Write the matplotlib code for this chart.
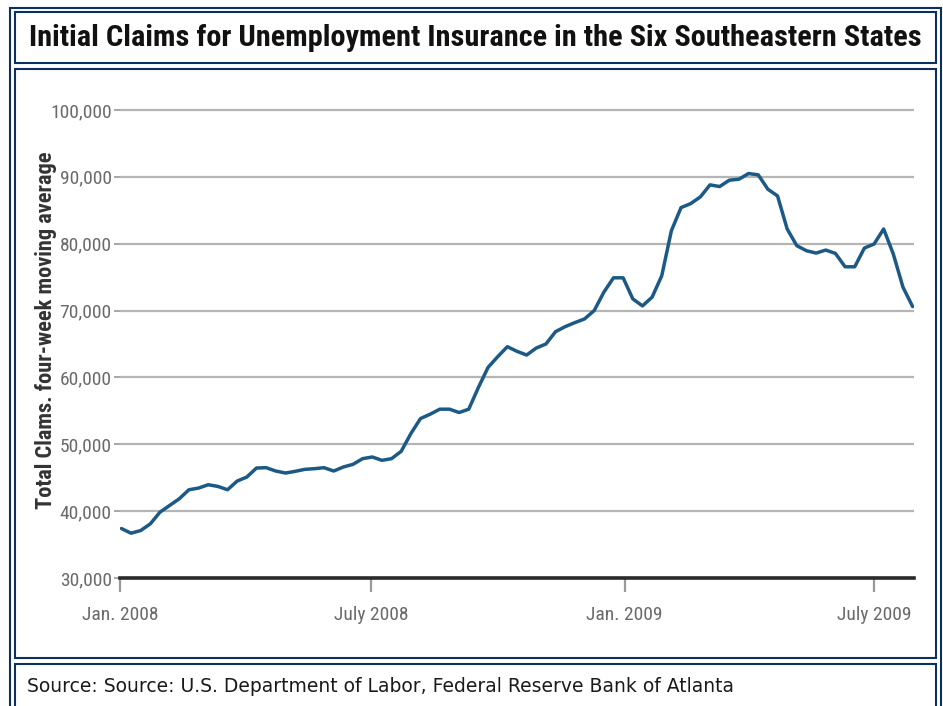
import matplotlib
matplotlib.use("Agg")
import matplotlib.pyplot as plt
from matplotlib.patches import Rectangle
from matplotlib.ticker import FuncFormatter
from matplotlib import font_manager
import pandas as pd

# ---------------- data ----------------
claims = [
    37400, 36700, 37100, 38100, 39850, 40850, 41850, 43200, 43450, 43950,
    43700, 43200, 44500, 45100, 46450, 46500, 46000, 45700, 45950, 46250,
    46350, 46500, 46000, 46600, 47000, 47850, 48100, 47600, 47850, 48950,
    51600, 53850, 54500, 55250, 55250, 54750, 55250, 58500, 61500, 63100,
    64600, 63900, 63350, 64400, 65000, 66850, 67600, 68200, 68750, 70000,
    72750, 74900, 74900, 71750, 70700, 72000, 75200, 81950, 85400, 86000,
    87000, 88800, 88550, 89500, 89650, 90500, 90300, 88150, 87150, 82200,
    79700, 78950, 78600, 79050, 78550, 76550, 76550, 79350, 79950, 82200,
    78450, 73500, 70600,
]
week_dates = pd.date_range("2008-01-02", periods=len(claims), freq="7D")

y_ticks = [30000, 40000, 50000, 60000, 70000, 80000, 90000, 100000]
x_tick_dates = pd.to_datetime(["2008-01-01", "2008-07-01", "2009-01-01", "2009-07-01"])
x_tick_labels = ["Jan. 2008", "July 2008", "Jan. 2009", "July 2009"]

title_text = "Initial Claims for Unemployment Insurance in the Six Southeastern States"
y_label_text = "Total Clams. four-week moving average"
source_text = "Source: Source: U.S. Department of Labor, Federal Reserve Bank of Atlanta"

# ---------------- fonts ----------------
available = {f.name for f in font_manager.fontManager.ttflist}

def pick(*names):
    for n in names:
        if n in available:
            return n
    return "DejaVu Sans"

narrow = pick("Liberation Sans Narrow", "Roboto Condensed", "Liberation Sans")
title_font = pick("Liberation Sans Narrow", "Roboto Condensed", "Liberation Sans")
verdana = pick("DejaVu Sans")

# ---------------- figure ----------------
W, H = 943, 706
fig = plt.figure(figsize=(W / 100, H / 100), dpi=100)
fig.patch.set_facecolor("white")

NAVY = "#0b2f5e"

def fx(px):
    return px / W

def fy(py):
    return 1 - py / H

def box(x0, y0, x1, y1, lw=1.5):
    r = Rectangle((fx(x0), fy(y1)), fx(x1) - fx(x0), fy(y0) - fy(y1),
                  transform=fig.transFigure, fill=False, edgecolor=NAVY,
                  linewidth=lw, zorder=10)
    fig.add_artist(r)

# outer frame (bottom edge lies outside the picture)
box(9.5, 7.5, 940.5, 730)
# title box, chart box, source box
box(14.5, 12.5, 935.5, 62.5)
box(14.5, 69.0, 935.5, 657.5)
box(14.5, 663.5, 935.5, 730)

# ---------------- axes ----------------
ax_left, ax_right = 120, 914
y_top_val = 100500
ax_bottom_px = 578
px_per_unit = (578 - 110) / 70000
ax_top_px = 110 - (y_top_val - 100000) * px_per_unit
ax = fig.add_axes([fx(ax_left), fy(ax_bottom_px), fx(ax_right) - fx(ax_left),
                   (ax_bottom_px - ax_top_px) / H])
ax.set_facecolor("white")

ax.plot(week_dates, claims, color="#1c5a85", linewidth=2.5,
        solid_joinstyle="round", solid_capstyle="round", zorder=4)

ax.set_xlim(pd.Timestamp("2008-01-01"), pd.Timestamp("2009-07-30"))
ax.set_ylim(30000, y_top_val)

for s in ax.spines.values():
    s.set_visible(False)

ax.set_yticks(y_ticks)
ax.yaxis.set_major_formatter(FuncFormatter(lambda v, p: f"{int(v):,}"))
ax.grid(axis="y", color="#b5b5b5", linewidth=1.6, zorder=1)
ax.grid(axis="x", visible=False)
ax.axhline(30000, color="#2a2a2a", linewidth=2.6, zorder=5, clip_on=False)

ax.set_xticks(x_tick_dates)
ax.set_xticklabels(x_tick_labels)

ax.tick_params(axis="y", length=4, width=1.2, color="#9a9a9a", pad=2,
               labelsize=14, labelcolor="#6a6a6a")
ax.tick_params(axis="x", length=10, width=1.6, color="#9a9a9a", pad=10,
               labelsize=14, labelcolor="#6a6a6a")
for lab in ax.get_xticklabels() + ax.get_yticklabels():
    lab.set_fontfamily(narrow)

# y label placed explicitly in figure coords
ylab = fig.text(fx(46), fy(330), y_label_text, rotation=90, ha="center",
                va="center", fontfamily=narrow, fontweight="bold",
                fontsize=14, color="#333333")

# ---------------- texts ----------------
title = fig.text(fx(475), fy(38), title_text, ha="center", va="center",
                 fontfamily=title_font, fontweight="bold", fontsize=16,
                 color="#111111")
source = fig.text(fx(27), fy(687), source_text, ha="left", va="center",
                  fontfamily=verdana, fontsize=11, color="#1a1a1a")

# fit text widths to the reference
fig.canvas.draw()
renderer = fig.canvas.get_renderer()

def fit(t, target, horiz=True):
    bb = t.get_window_extent(renderer)
    size = bb.width if horiz else bb.height
    t.set_fontsize(t.get_fontsize() * target / size)

fit(title, 890)
fit(source, 711)
fit(ylab, 360, horiz=False)

fig.savefig("out.png", dpi=100, facecolor="white")
